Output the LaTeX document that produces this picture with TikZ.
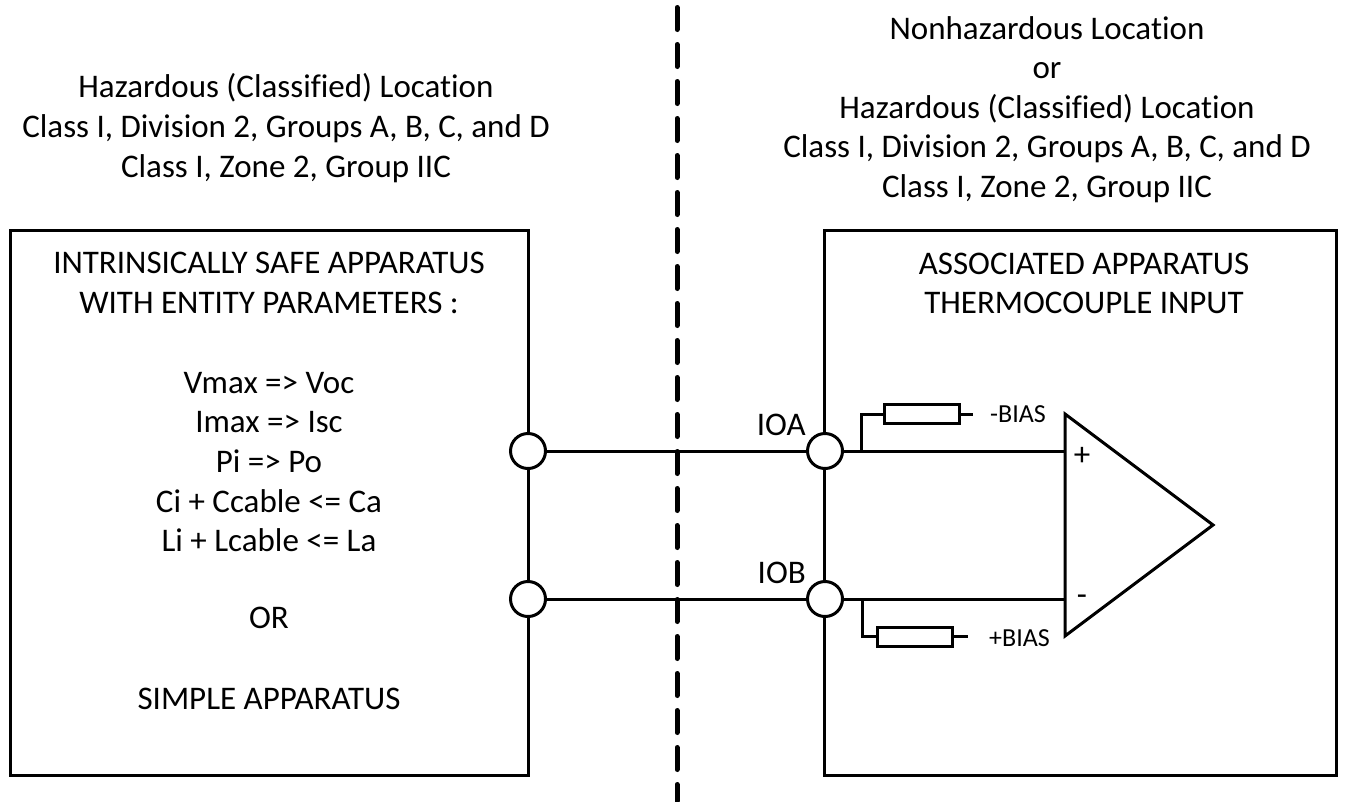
\documentclass[tikz,border=0pt]{standalone}
\usepackage{fontspec}
\setmainfont[Ligatures=NoCommon]{Carlito}
\usetikzlibrary{positioning, calc}

\begin{document}
\begin{tikzpicture}[x=1pt, y=-1pt,
    box/.style={draw, line width=3pt, minimum width=518pt, minimum height=545pt, inner sep=0pt},
    term/.style={draw, circle, line width=3pt, fill=white, minimum size=35pt, inner sep=0pt},
    res/.style={draw, line width=3pt, fill=white, minimum width=75pt, minimum height=19pt, inner sep=0pt},
    lbl/.style={font=\fontsize{33}{39.6}\selectfont, align=center, inner sep=0pt},
    small/.style={font=\fontsize{26}{30}\selectfont, inner sep=0pt},
    wire/.style={line width=3pt},
]
\useasboundingbox (0,0) rectangle (1346,801);

% Boxes
\node[box] (safe) at (269,502.5) {};
\node[box, minimum width=512pt] (assoc) at (1080,502.5) {};

% Barrier
\coordinate (bartop) at (677,7.5);
\coordinate (barbot) at (677,801);
\draw[line width=5pt, line cap=round, dash pattern=on 22pt off 15pt] (bartop) -- (barbot);

% Location texts
\node[lbl] (hazL) at (286,128) {Hazardous (Classified) Location\\Class I, Division 2, Groups A, B, C, and D\\Class I, Zone 2, Group IIC};
\node[lbl] (hazR) at (1047,109.5) {Nonhazardous Location\\or\\Hazardous (Classified) Location\\Class I, Division 2, Groups A, B, C, and D\\Class I, Zone 2, Group IIC};

% Box texts
\node[lbl] (safeT) at (269,283) {INTRINSICALLY SAFE APPARATUS\\WITH ENTITY PARAMETERS :};
\node[lbl] (params) at (269,462) {Vmax => Voc\\Imax => Isc\\Pi => Po\\Ci + Ccable <= Ca\\Li + Lcable <= La};
\node[lbl] (orT) at (269,618) {OR};
\node[lbl] (simple) at (269,699) {SIMPLE APPARATUS};
\node[lbl] (assocT) at (1084,283.5) {ASSOCIATED APPARATUS\\THERMOCOUPLE INPUT};

% Terminals
\node[term] (tA) at (528,451) {};
\node[term] (tB) at (528,599) {};
\node[term] (ioa) at (825,451) {};
\node[term] (iob) at (825,599) {};
\node[lbl, anchor=east] (ioaL) at (806,425) {IOA};
\node[lbl, anchor=east] (iobL) at (806,573) {IOB};

% Amplifier
\coordinate (ampA) at (1065,414);
\coordinate (ampB) at (1065,636);
\coordinate (ampC) at (1213,525);
\draw[wire] (ampA) -- (ampB) -- (ampC) -- cycle;
\node[lbl] (plus) at (1082,456) {+};
\node[lbl] (minus) at (1082,600) {-};

% Wires
\foreach \a/\b in {tA/ioa, tB/iob} {
  \draw[wire] (\a) -- (\b);
}
\draw[wire] (ioa) -- (ioa -| ampA);
\draw[wire] (iob) -- (iob -| ampA);

% Bias
\node[res] (rA) at (921.5,414) {};
\node[res] (rB) at (914.5,636.5) {};
\node[small, anchor=west] (bA) at (990,414) {-BIAS};
\node[small, anchor=west] (bB) at (989,638) {+BIAS};
\coordinate (endA) at (973,414);
\coordinate (endB) at (968,636.5);
\coordinate (tapA) at (861,451);
\coordinate (tapB) at (862,599);
\draw[wire] (tapA) |- (rA.west);
\draw[wire] (tapB) |- (rB.west);
\draw[wire] (rA.east) -- (endA);
\draw[wire] (rB.east) -- (endB);
\end{tikzpicture}
\end{document}
